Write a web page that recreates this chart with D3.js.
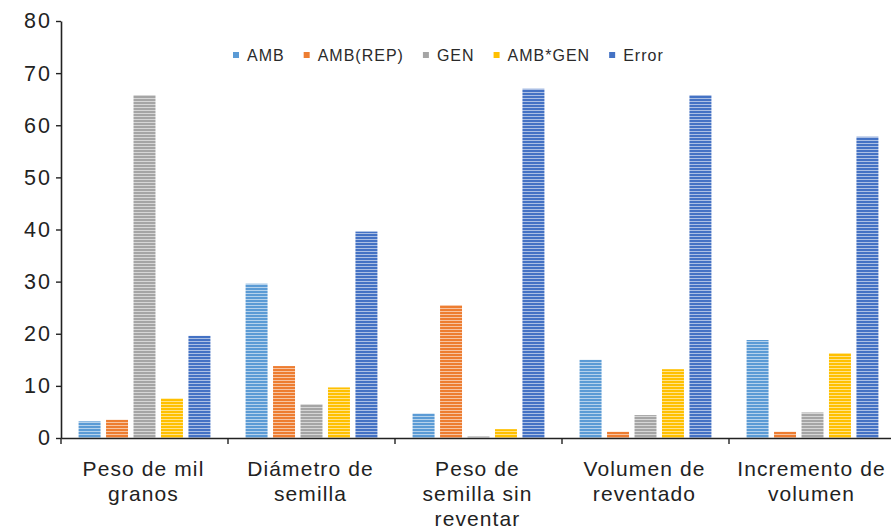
<!DOCTYPE html>
<html>
<head>
<meta charset="utf-8">
<script src="https://cdn.jsdelivr.net/npm/d3@7"></script>
<style>
  body { margin: 0; background: #fff; }
  svg { display: block; font-family: "Liberation Sans", Arial, sans-serif; }
</style>
</head>
<body>
<svg id="chart" width="891" height="531"></svg>
<script>
const categories = [
  ["Peso de mil", "granos"],
  ["Diámetro de", "semilla"],
  ["Peso de", "semilla sin", "reventar"],
  ["Volumen de", "reventado"],
  ["Incremento de", "volumen"]
];
const seriesNames = ["AMB", "AMB(REP)", "GEN", "AMB*GEN", "Error"];
const AMB      = [3.2, 29.6, 4.7, 15.0, 18.8];
const AMB_REP  = [3.5, 13.8, 25.5, 1.2, 1.2];
const GEN      = [65.8, 6.5, 0.3, 4.4, 4.9];
const AMB_GEN  = [7.6, 9.7, 1.7, 13.2, 16.3];
const ERROR    = [19.6, 39.6, 67.0, 65.8, 57.8];
const yTicks = [0, 10, 20, 30, 40, 50, 60, 70, 80];
const colors = ["#5b9bd5", "#ed7d31", "#a5a5a5", "#ffc000", "#4472c4"];

const seriesValues = [AMB, AMB_REP, GEN, AMB_GEN, ERROR];
const catKeys = categories.map(c => c.join(" "));

const svg = d3.select("#chart");
const mLeft = 61, mRight = 896, mTop = 21, mBottom = 438;

const x0 = d3.scaleBand().domain(catKeys).range([mLeft, mRight]).padding(0);
const x1 = d3.scaleBand().domain(seriesNames).range([0, x0.bandwidth()])
  .paddingInner(0.2).paddingOuter(0.64);
const y = d3.scaleLinear().domain([0, 80]).range([mBottom, mTop]);

// stripe patterns
const defs = svg.append("defs");
colors.forEach((c, i) => {
  const p = defs.append("pattern")
    .attr("id", "stripe" + i)
    .attr("patternUnits", "userSpaceOnUse")
    .attr("width", 6).attr("height", 3);
  p.append("rect").attr("width", 6).attr("height", 3).attr("fill", c);
  p.append("rect").attr("y", 2).attr("width", 6).attr("height", 1)
    .attr("fill", "#ffffff").attr("opacity", 0.55);
});

// bars
const g = svg.append("g");
catKeys.forEach((k, ci) => {
  seriesNames.forEach((s, si) => {
    const v = seriesValues[si][ci];
    g.append("rect")
      .attr("x", x0(k) + x1(s))
      .attr("y", y(v))
      .attr("width", x1.bandwidth())
      .attr("height", y(0) - y(v))
      .attr("fill", "url(#stripe" + si + ")");
  });
});

// y axis
const yAxis = svg.append("g")
  .attr("transform", `translate(${mLeft},0)`)
  .call(d3.axisLeft(y).tickValues(yTicks).tickSize(5).tickPadding(4).tickSizeOuter(0));
yAxis.select(".domain").attr("stroke", "#222").attr("stroke-width", 1.6);
yAxis.selectAll(".tick line").attr("stroke", "#222").attr("stroke-width", 1.4);
yAxis.selectAll(".tick text")
  .attr("font-size", 21.5).attr("fill", "#222")
  .attr("letter-spacing", 2)
  .attr("font-family", "'Liberation Sans', Arial, sans-serif");

// x axis
const xAxis = svg.append("g")
  .attr("transform", `translate(0,${mBottom})`)
  .call(d3.axisBottom(x0).tickSize(0).tickFormat("").tickSizeOuter(0));
xAxis.select(".domain").attr("stroke", "#222").attr("stroke-width", 1.6);
xAxis.selectAll(".tick").remove();
catKeys.forEach(k => {
  xAxis.append("line")
    .attr("x1", x0(k)).attr("x2", x0(k))
    .attr("y1", 0).attr("y2", 6)
    .attr("stroke", "#222").attr("stroke-width", 1.4);
});

// category labels
catKeys.forEach((k, ci) => {
  const t = svg.append("text")
    .attr("text-anchor", "middle")
    .attr("font-size", 21)
    .attr("letter-spacing", 1.1)
    .attr("fill", "#222");
  categories[ci].forEach((line, li) => {
    t.append("tspan")
      .attr("x", x0(k) + x0.bandwidth() / 2 - 1)
      .attr("y", 476 + li * 25)
      .text(line);
  });
});

// legend
const legend = svg.append("g");
let lx = 233;
seriesNames.forEach((s, i) => {
  legend.append("rect")
    .attr("x", lx).attr("y", 52)
    .attr("width", 6).attr("height", 6)
    .attr("fill", colors[i]);
  const t = legend.append("text")
    .attr("x", lx + 14).attr("y", 60.5)
    .attr("font-size", 16)
    .attr("letter-spacing", 1)
    .attr("fill", "#2a2a2a")
    .text(s);
  lx += 14 + t.node().getComputedTextLength() + 19;
});
</script>
</body>
</html>
